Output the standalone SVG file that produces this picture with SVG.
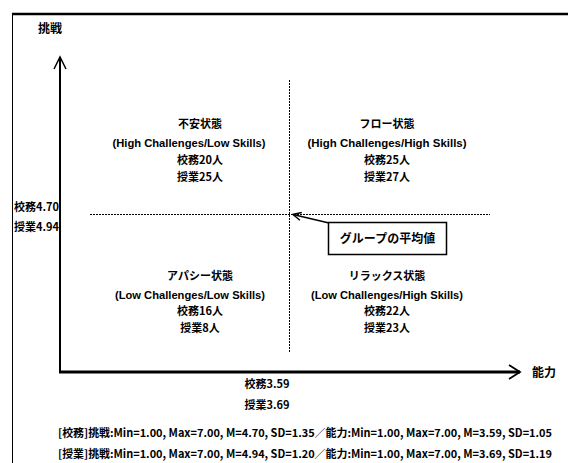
<svg xmlns="http://www.w3.org/2000/svg" width="568" height="463" viewBox="0 0 568 463">
<style>
text{font-family:"Noto Sans CJK JP","Liberation Sans",sans-serif;font-weight:bold;font-size:11px;fill:#000}
.c{text-anchor:middle}
.en{font-family:"Liberation Sans","Noto Sans CJK JP",sans-serif;font-size:10.5px}
.ax{stroke:#000;fill:none}
.dash{stroke:#000;stroke-width:1;stroke-dasharray:2 1;fill:none}
</style>
<defs>
<marker id="open" markerWidth="10" markerHeight="10" refX="9" refY="5" orient="auto" markerUnits="userSpaceOnUse">
<path d="M1,1 L9,5 L1,9" fill="none" stroke="#000" stroke-width="1.5"/>
</marker>
</defs>
<rect width="568" height="463" fill="#fff"/>
<g id="frame">
<line x1="12" y1="14" x2="568" y2="14" stroke="#000" stroke-width="2.5"/>
<line x1="12.5" y1="13" x2="12.5" y2="463" stroke="#000" stroke-width="1"/>
</g>
<g id="connectors">
<line class="ax" x1="60" y1="373" x2="60" y2="57" stroke-width="2"/>
<path class="ax" d="M54,69 L60,57 L66,69" stroke-width="1.5"/>
<line class="ax" x1="59" y1="372" x2="520" y2="372" stroke-width="3"/>
<path class="ax" d="M509,365 L520,372 L509,379" stroke-width="1.8"/>
<line class="dash" x1="289.5" y1="80" x2="289.5" y2="352"/>
<line class="dash" x1="90" y1="214.5" x2="490" y2="214.5"/>
<line x1="329" y1="223" x2="293" y2="214.5" stroke="#000" stroke-width="1.5" marker-end="url(#open)"/>
</g>
<g id="axis-y-label"><text x="38" y="33" style="font-size:12px">挑戦</text></g>
<g id="axis-x-label"><text x="532" y="377" style="font-size:12px">能力</text></g>
<g id="mean-y">
<text x="14" y="211">校務4.70</text>
<text x="14" y="231">授業4.94</text>
</g>
<g id="mean-x">
<text class="c" x="267" y="388">校務3.59</text>
<text class="c" x="267" y="409">授業3.69</text>
</g>
<g id="q-anxiety">
<text class="c" x="200" y="128">不安状態</text>
<text class="c en" x="189" y="147" textLength="153" lengthAdjust="spacingAndGlyphs">(High Challenges/Low Skills)</text>
<text class="c" x="200" y="164">校務20人</text>
<text class="c" x="200" y="181">授業25人</text>
</g>
<g id="q-flow">
<text class="c" x="387" y="128">フロー状態</text>
<text class="c en" x="387" y="147" textLength="159" lengthAdjust="spacingAndGlyphs">(High Challenges/High Skills)</text>
<text class="c" x="387" y="164">校務25人</text>
<text class="c" x="387" y="181">授業27人</text>
</g>
<g id="q-apathy">
<text class="c" x="200" y="280">アパシー状態</text>
<text class="c en" x="190" y="299" textLength="150" lengthAdjust="spacingAndGlyphs">(Low Challenges/Low Skills)</text>
<text class="c" x="200" y="315">校務16人</text>
<text class="c" x="200" y="332">授業8人</text>
</g>
<g id="q-relax">
<text class="c" x="387" y="280">リラックス状態</text>
<text class="c en" x="387" y="299" textLength="152" lengthAdjust="spacingAndGlyphs">(Low Challenges/High Skills)</text>
<text class="c" x="387" y="315">校務22人</text>
<text class="c" x="387" y="332">授業23人</text>
</g>
<g id="mean-box">
<rect x="328.5" y="222.5" width="118" height="32" fill="#fff" stroke="#000" stroke-width="1.5"/>
<text class="c" x="387.5" y="243" style="font-size:12px">グループの平均値</text>
</g>
<g id="notes">
<text x="58" y="437" textLength="494" lengthAdjust="spacingAndGlyphs">[校務]挑戦:Min=1.00, Max=7.00, M=4.70, SD=1.35／能力:Min=1.00, Max=7.00, M=3.59, SD=1.05</text>
<text x="58" y="458" textLength="494" lengthAdjust="spacingAndGlyphs">[授業]挑戦:Min=1.00, Max=7.00, M=4.94, SD=1.20／能力:Min=1.00, Max=7.00, M=3.69, SD=1.19</text>
</g>
</svg>
